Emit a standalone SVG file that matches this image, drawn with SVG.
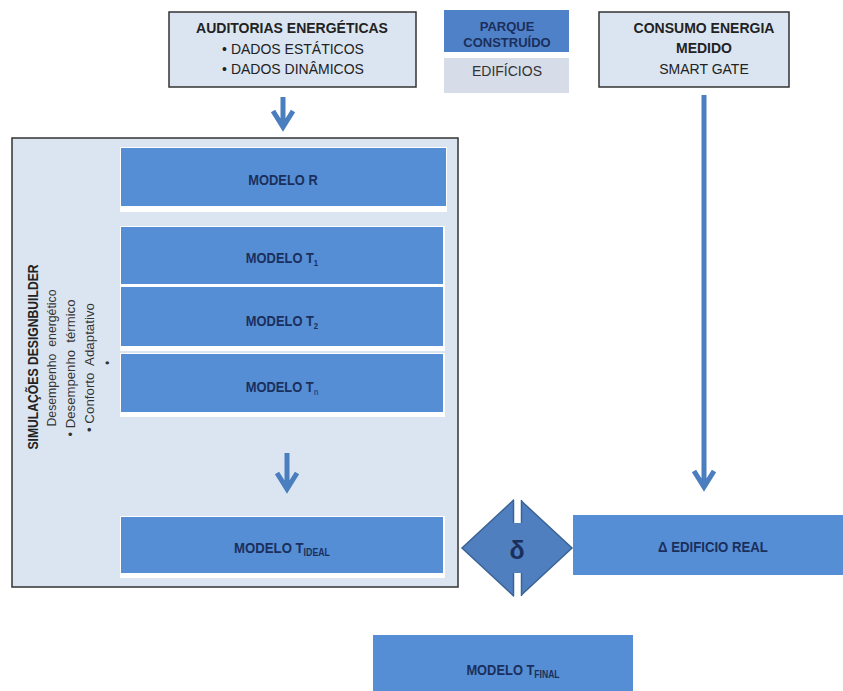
<svg xmlns="http://www.w3.org/2000/svg" width="843" height="691" viewBox="0 0 843 691">
<style>
text{font-family:"Liberation Sans",Arial,sans-serif}
.hdr{fill:#dbe5f1;stroke:#333;stroke-width:1.5}
.blue{fill:#558ed5}
.wht{fill:#ffffff}
.lbl{font-weight:bold;font-size:15px;fill:#1b2f5c;text-anchor:middle}
.top{font-size:14px;fill:#222;text-anchor:middle}
.b{font-weight:bold}
.arr{fill:none;stroke:#4a7ebf;stroke-width:5}
.sub{font-size:9px}
</style>
<rect width="843" height="691" fill="#ffffff"/>

<g id="auditorias">
<rect class="hdr" x="169" y="12" width="247" height="75"/>
<text class="top b" x="292" y="33">AUDITORIAS ENERGÉTICAS</text>
<text class="top" x="293" y="54">• DADOS ESTÁTICOS</text>
<text class="top" x="293" y="74">• DADOS DINÂMICOS</text>
</g>

<g id="parque">
<rect x="444" y="10" width="125" height="42" fill="#4f81c8"/>
<text class="b" x="507" y="31" font-size="13" fill="#1b2f5c" text-anchor="middle">PARQUE</text>
<text class="b" x="507" y="47" font-size="13" fill="#1b2f5c" text-anchor="middle">CONSTRUÍDO</text>
<rect x="444" y="58" width="125" height="35" fill="#d6dce8"/>
<text x="507" y="76" font-size="14" fill="#333" text-anchor="middle">EDIFÍCIOS</text>
</g>

<g id="consumo">
<rect class="hdr" x="599" y="12" width="190" height="75"/>
<text class="top b" x="704" y="33">CONSUMO ENERGIA</text>
<text class="top b" x="704" y="53">MEDIDO</text>
<text class="top" x="704" y="74">SMART GATE</text>
</g>

<g id="simulacoes">
<rect class="hdr" x="12" y="138" width="446" height="449"/>
<text transform="translate(38,357) rotate(-90) scale(0.87,1)" font-size="14" font-weight="bold" fill="#222" text-anchor="middle">SIMULAÇÕES DESIGNBUILDER</text>
<text transform="translate(56,358) rotate(-90)" font-size="12" fill="#333" text-anchor="middle" xml:space="preserve" textLength="137" lengthAdjust="spacingAndGlyphs">Desempenho  energético</text>
<text transform="translate(75,368) rotate(-90)" font-size="12" fill="#333" text-anchor="middle" xml:space="preserve" textLength="137" lengthAdjust="spacingAndGlyphs">• Desempenho  térmico</text>
<text transform="translate(94,367.5) rotate(-90)" font-size="12" fill="#333" text-anchor="middle" xml:space="preserve" textLength="129" lengthAdjust="spacingAndGlyphs">• Conforto  Adaptativo</text>
<text transform="translate(112,363) rotate(-90)" font-size="12" fill="#333" text-anchor="middle">•</text>
</g>

<g id="modelo-r">
<rect class="wht" x="120" y="147" width="327" height="65"/>
<rect class="blue" x="121" y="148" width="325" height="58"/>
<text class="lbl" transform="translate(283,185) scale(0.86,1)">MODELO R</text>
</g>

<g id="modelo-t1">
<rect class="wht" x="120" y="226" width="325" height="62"/>
<rect class="blue" x="121" y="227" width="322" height="57"/>
<text class="lbl" transform="translate(282,263) scale(0.86,1)">MODELO T<tspan class="sub" dy="3">1</tspan></text>
</g>

<g id="modelo-t2">
<rect class="wht" x="120" y="285" width="325" height="66"/>
<rect class="blue" x="121" y="287" width="322" height="59"/>
<text class="lbl" transform="translate(282,326) scale(0.86,1)">MODELO T<tspan class="sub" dy="3">2</tspan></text>
</g>

<g id="modelo-tn">
<rect class="wht" x="120" y="353" width="325" height="64"/>
<rect class="blue" x="121" y="354" width="322" height="58"/>
<text class="lbl" transform="translate(282,392) scale(0.86,1)">MODELO T<tspan class="sub" dy="3" fill="#2a4f8f">n</tspan></text>
</g>

<g id="modelo-tideal">
<rect class="wht" x="120" y="516" width="325" height="62"/>
<rect class="blue" x="121" y="517" width="322" height="56"/>
<text class="lbl" transform="translate(282,553) scale(0.88,1)" font-size="14">MODELO T<tspan font-size="10" dy="3">IDEAL</tspan></text>
</g>

<g id="delta-diamond">
<polygon points="517,497 572,548 517,599 462,548" fill="#4f7fbf" stroke="#3b6496" stroke-width="1.5"/>
<rect x="514" y="496" width="7" height="27" fill="#ffffff"/>
<rect x="514" y="573" width="7" height="27" fill="#ffffff"/>
<path d="M513.5,500 V523 M521.5,500 V523 M513.5,573 V596 M521.5,573 V596" stroke="#3b6496" stroke-width="1.5" fill="none"/>
<text x="517" y="559" font-size="25" font-weight="bold" fill="#1b2f5c" text-anchor="middle">δ</text>
</g>

<g id="edificio-real">
<rect class="blue" x="573" y="515" width="280" height="60"/>
<text class="lbl" transform="translate(713,552) scale(0.88,1)" font-size="14">Δ EDIFICIO REAL</text>
</g>

<g id="modelo-tfinal">
<rect class="blue" x="373" y="635" width="260" height="70"/>
<text class="lbl" transform="translate(513,675) scale(0.86,1)">MODELO T<tspan font-size="10" dy="3">FINAL</tspan></text>
</g>

<g id="connectors">
<path class="arr" d="M283,97 V128 M273,111 L283,127 L293,111"/>
<path class="arr" d="M287,453 V490 M277,473 L287,489 L297,473"/>
<path class="arr" d="M704,95 V488 M694,471 L704,487 L714,471"/>
</g>
</svg>
